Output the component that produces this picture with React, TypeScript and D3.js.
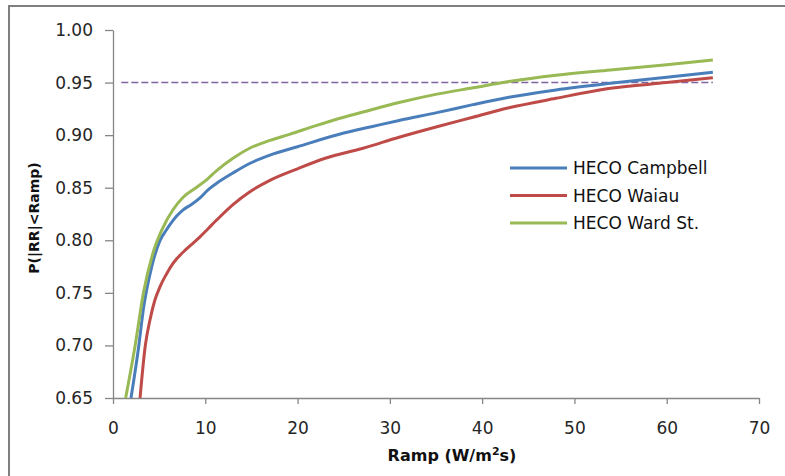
import React, { useEffect, useRef } from 'react';
import * as d3 from 'd3';

// Ramp values (W/m²s) and P(|RR|<Ramp)
const campbellX = [1.95, 2.8, 3.3, 4.2, 5.1, 5.8, 6.9, 7.6, 8.5, 9.4, 10.3, 11.2, 13, 14.8, 17, 20, 25, 28, 31, 35.1, 39, 42.9, 48, 53.9, 60, 65];
const campbellY = [0.65, 0.7, 0.735, 0.775, 0.8, 0.81, 0.823, 0.829, 0.834, 0.84, 0.848, 0.854, 0.864, 0.873, 0.881, 0.889, 0.902, 0.908, 0.914, 0.9214, 0.929, 0.936, 0.943, 0.9493, 0.955, 0.9598];

const waiauX = [2.93, 3.5, 4.0, 4.5, 5.1, 5.8, 6.5, 8, 9.4, 10.3, 11.2, 13, 14.8, 17, 20, 23, 27.1, 31, 35.1, 39, 42.9, 48, 53.9, 60, 65];
const waiauY = [0.65, 0.7, 0.724, 0.742, 0.756, 0.768, 0.778, 0.792, 0.803, 0.811, 0.819, 0.834, 0.846, 0.857, 0.868, 0.878, 0.8875, 0.898, 0.908, 0.917, 0.926, 0.935, 0.9445, 0.95, 0.9546];

const wardX = [1.37, 2.4, 3.3, 4.3, 5.3, 6.5, 7.6, 9, 10.2, 11.2, 13, 14.8, 17, 19.2, 22, 25, 27.1, 31, 35.1, 39, 42.9, 48, 53.9, 60, 65];
const wardY = [0.65, 0.7, 0.75, 0.787, 0.81, 0.829, 0.841, 0.85, 0.858, 0.866, 0.878, 0.8875, 0.895, 0.901, 0.909, 0.917, 0.922, 0.931, 0.939, 0.945, 0.951, 0.957, 0.962, 0.967, 0.9715];

const seriesNames = ['HECO Campbell', 'HECO Waiau', 'HECO Ward St.'];
const seriesColors = ['#4a7ebb', '#be4b48', '#98b954'];

const xTicks = [0, 10, 20, 30, 40, 50, 60, 70];
const yTicks = [0.65, 0.7, 0.75, 0.8, 0.85, 0.9, 0.95, 1.0];

const threshold = 0.95;
const thresholdRange = [0.9, 65];

const App = () => {
  const svgRef = useRef<SVGSVGElement>(null);

  useEffect(() => {
    const svg = d3.select(svgRef.current);
    svg.selectAll('*').remove();

    const left = 113, right = 759, top = 30, bottom = 398;
    const x = d3.scaleLinear().domain([0, 70]).range([left, right]);
    const y = d3.scaleLinear().domain([0.65, 1.0]).range([bottom, top]);

    // chart frame
    svg.append('rect')
      .attr('x', 9).attr('y', 6)
      .attr('width', 800).attr('height', 500)
      .attr('fill', '#fff')
      .attr('stroke', '#7f7f7f')
      .attr('stroke-width', 2);

    const font = 'DejaVu Sans, sans-serif';

    // y axis
    const yAxis = svg.append('g')
      .attr('transform', `translate(${left},0)`)
      .call(d3.axisLeft(y).tickValues(yTicks).tickFormat(d3.format('.2f')).tickSize(8).tickPadding(12).tickSizeOuter(0));
    yAxis.select('.domain').attr('stroke', '#868686').attr('stroke-width', 1.3);
    yAxis.selectAll('.tick line').attr('stroke', '#868686').attr('stroke-width', 1.3);
    yAxis.selectAll('.tick text').attr('fill', '#262626').style('font', `17px ${font}`);

    // x axis
    const xAxis = svg.append('g')
      .attr('transform', `translate(0,${bottom})`)
      .call(d3.axisBottom(x).tickValues(xTicks).tickFormat(d3.format('d')).tickSize(6).tickPadding(18).tickSizeOuter(0));
    xAxis.select('.domain').attr('stroke', '#868686').attr('stroke-width', 1.3);
    xAxis.selectAll('.tick line').attr('stroke', '#868686').attr('stroke-width', 1.3);
    xAxis.selectAll('.tick text').attr('fill', '#262626').style('font', `17px ${font}`);

    // axis titles
    svg.append('text')
      .attr('x', 452).attr('y', 461)
      .attr('text-anchor', 'middle')
      .style('font', `bold 16px ${font}`)
      .attr('fill', '#111')
      .html('Ramp (W/m<tspan font-size="11" dy="-6">2</tspan><tspan dy="6">s)</tspan>');

    svg.append('text')
      .attr('transform', `translate(39,218) rotate(-90)`)
      .attr('text-anchor', 'middle')
      .style('font', `bold 14px ${font}`)
      .attr('fill', '#111')
      .text('P(|RR|<Ramp)');

    // threshold line
    svg.append('line')
      .attr('x1', x(thresholdRange[0])).attr('x2', x(thresholdRange[1]))
      .attr('y1', y(threshold)).attr('y2', y(threshold))
      .attr('stroke', '#8064a2')
      .attr('stroke-width', 1.6)
      .attr('stroke-dasharray', '7,3');

    // series
    const seriesX = [campbellX, waiauX, wardX];
    const seriesY = [campbellY, waiauY, wardY];
    const line = d3.line<[number, number]>()
      .x((d) => x(d[0]))
      .y((d) => y(d[1]))
      .curve(d3.curveMonotoneX);

    seriesX.forEach((xs, i) => {
      const pts = xs.map((v, j) => [v, seriesY[i][j]] as [number, number]);
      svg.append('path')
        .datum(pts)
        .attr('d', line)
        .attr('fill', 'none')
        .attr('stroke', seriesColors[i])
        .attr('stroke-width', 3);
    });

    // legend
    const legend = svg.append('g');
    seriesNames.forEach((name, i) => {
      const ly = 168 + i * 27.5;
      legend.append('line')
        .attr('x1', 510).attr('x2', 567)
        .attr('y1', ly).attr('y2', ly)
        .attr('stroke', seriesColors[i])
        .attr('stroke-width', 3);
      legend.append('text')
        .attr('x', 573).attr('y', ly)
        .attr('dy', '0.36em')
        .style('font', `17px ${font}`)
        .attr('fill', '#111')
        .text(name);
    });
  }, []);

  return (
    <svg ref={svgRef} width={785} height={476} style={{ position: 'absolute', left: 0, top: 0 }} />
  );
};

export default App;
